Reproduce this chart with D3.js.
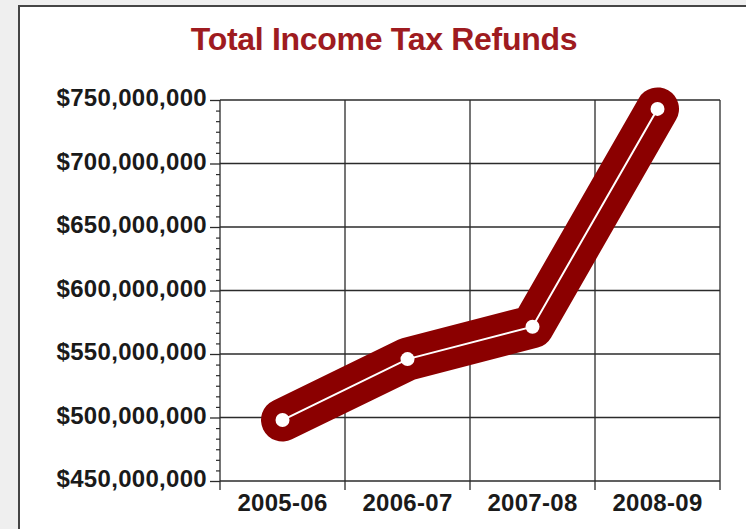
<!DOCTYPE html>
<html>
<head>
<meta charset="utf-8">
<script src="https://cdn.jsdelivr.net/npm/d3@7"></script>
<style>
  html, body { margin: 0; padding: 0; background: #efefef; }
  svg { display: block; }
  .tick text { font-family: "Liberation Sans", Arial, Helvetica, sans-serif; font-weight: bold; }
</style>
</head>
<body>
<script>
// categories and values
var years = ['2005-06', '2006-07', '2007-08', '2008-09'];
var refunds = [498000000, 546000000, 571500000, 743000000];
var yTicks = [450000000, 500000000, 550000000, 600000000, 650000000, 700000000, 750000000];
var titleText = 'Total Income Tax Refunds';

var svgWidth = 746;
var svgHeight = 529;
// plot area
var margin = { top: 100, right: 26, bottom: 48, left: 220 };

var svg = d3.select('body')
  .append('svg')
  .attr('width', svgWidth)
  .attr('height', svgHeight);

// white panel with dark border
svg.append('rect')
  .attr('x', 19)
  .attr('y', 6)
  .attr('width', svgWidth)
  .attr('height', svgHeight)
  .attr('fill', '#ffffff')
  .attr('stroke', '#454545')
  .attr('stroke-width', 2);

// title
svg.append('text')
  .attr('x', 384)
  .attr('y', 50)
  .attr('text-anchor', 'middle')
  .style('font-family', '"Liberation Sans", Arial, Helvetica, sans-serif')
  .style('font-weight', 'bold')
  .style('font-size', '32px')
  .style('letter-spacing', '-0.3px')
  .attr('fill', '#9e1b20')
  .text(titleText);

var x = d3.scaleBand()
  .domain(years)
  .range([margin.left, svgWidth - margin.right])
  .padding(0);

var y = d3.scaleLinear()
  .domain([450000000, 750000000])
  .range([svgHeight - margin.bottom, margin.top]);

var fmt = d3.format(',');

// horizontal grid
var g = svg.append('g').attr('class', 'grid');
g.selectAll('line.h')
  .data(yTicks)
  .enter()
  .append('line')
  .attr('class', 'h')
  .attr('x1', margin.left)
  .attr('x2', svgWidth - margin.right)
  .attr('y1', d => y(d))
  .attr('y2', d => y(d))
  .attr('stroke', '#2b2b2b')
  .attr('stroke-width', 1.3);

// vertical grid at band edges
var edges = years.map(d => x(d)).concat([x(years[years.length - 1]) + x.bandwidth()]);
g.selectAll('line.v')
  .data(edges)
  .enter()
  .append('line')
  .attr('class', 'v')
  .attr('x1', d => d)
  .attr('x2', d => d)
  .attr('y1', margin.top)
  .attr('y2', svgHeight - margin.bottom + 9)
  .attr('stroke', '#2b2b2b')
  .attr('stroke-width', 1.3);

// minor ticks on y axis (6 steps between labels)
var minor = [];
for (var i = 0; i < yTicks.length - 1; i++) {
  for (var k = 1; k < 6; k++) {
    minor.push(yTicks[i] + (yTicks[i + 1] - yTicks[i]) * k / 6);
  }
}
svg.append('g')
  .attr('transform', `translate(${margin.left},0)`)
  .call(d3.axisLeft(y).tickValues(minor).tickSize(4).tickFormat(''))
  .call(s => s.select('.domain').remove())
  .selectAll('line').attr('stroke', '#2b2b2b').attr('stroke-width', 1.2);

// y axis
var yAxis = svg.append('g')
  .attr('transform', `translate(${margin.left},0)`)
  .call(d3.axisLeft(y).tickValues(yTicks).tickSize(10).tickPadding(3).tickFormat(d => '$' + fmt(d)));
yAxis.select('.domain').remove();
yAxis.selectAll('line').attr('stroke', '#2b2b2b').attr('stroke-width', 1.3);
yAxis.selectAll('text')
  .attr('dy', '0.24em')
  .attr('fill', '#1a1a1a')
  .style('font-size', '24px')
  .style('letter-spacing', '0.3px');

// x axis labels
var xAxis = svg.append('g')
  .attr('transform', `translate(0,${svgHeight - margin.bottom})`)
  .call(d3.axisBottom(x).tickSize(0).tickPadding(13));
xAxis.select('.domain').remove();
xAxis.selectAll('text')
  .attr('fill', '#1a1a1a')
  .style('font-size', '24px')
  .style('letter-spacing', '0.3px');

// data line
var line = d3.line()
  .x((d, i) => x(years[i]) + x.bandwidth() / 2)
  .y(d => y(d));

svg.append('path')
  .datum(refunds)
  .attr('d', line)
  .attr('fill', 'none')
  .attr('stroke', '#8b0000')
  .attr('stroke-width', 43)
  .attr('stroke-linecap', 'round')
  .attr('stroke-linejoin', 'round');

svg.append('path')
  .datum(refunds)
  .attr('d', line)
  .attr('fill', 'none')
  .attr('stroke', '#ffffff')
  .attr('stroke-width', 2);

svg.selectAll('circle.pt')
  .data(refunds)
  .enter()
  .append('circle')
  .attr('class', 'pt')
  .attr('cx', (d, i) => x(years[i]) + x.bandwidth() / 2)
  .attr('cy', d => y(d))
  .attr('r', 7)
  .attr('fill', '#ffffff');
</script>
</body>
</html>
